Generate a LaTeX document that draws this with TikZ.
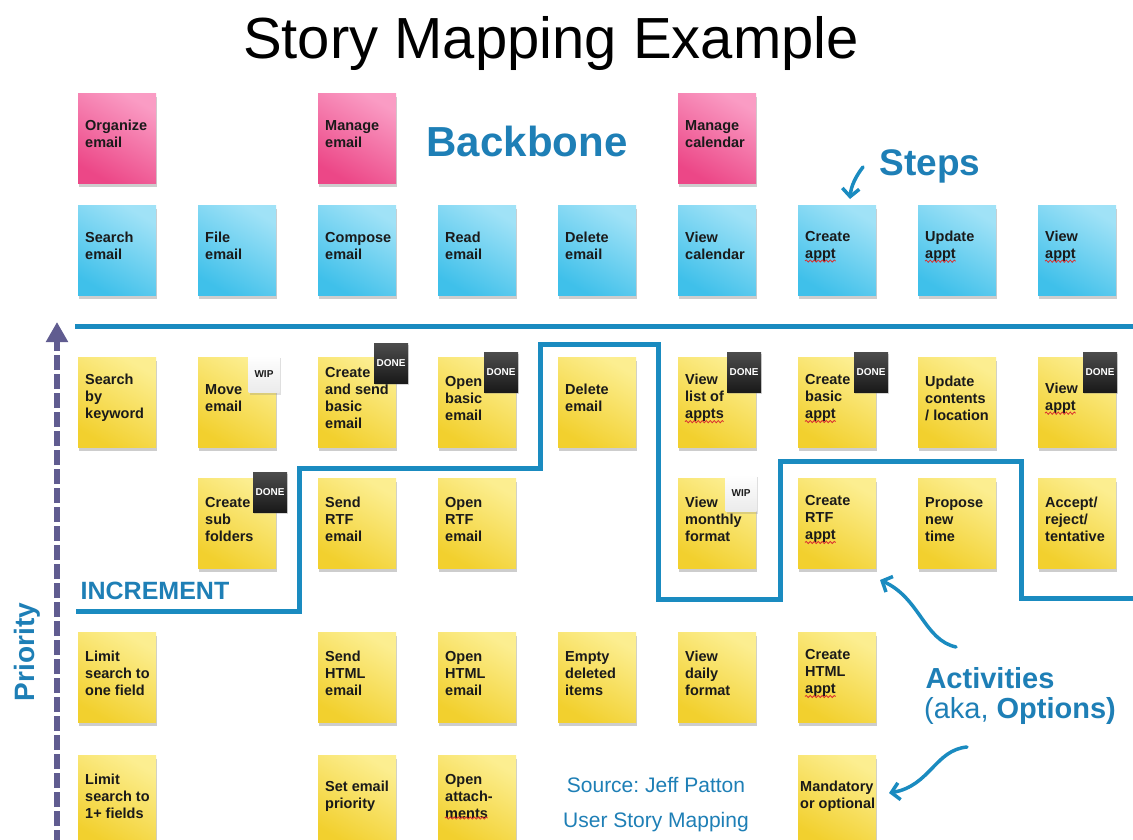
\documentclass[tikz,border=0pt]{standalone}
\usepackage{fontspec}
\setmainfont{Liberation Sans}
\usetikzlibrary{arrows.meta,shadows,decorations.pathmorphing}
\frenchspacing
\definecolor{pinkA}{HTML}{EC4787}
\definecolor{pinkB}{HTML}{FA9CC4}
\definecolor{blueA}{HTML}{3FC0EA}
\definecolor{blueB}{HTML}{A0E2F7}
\definecolor{yelA}{HTML}{F2D02E}
\definecolor{yelB}{HTML}{FCEE90}
\definecolor{tblue}{HTML}{1E7FB6}
\definecolor{lblue}{HTML}{1A8BC0}
\definecolor{prio}{HTML}{605C90}
\definecolor{wavered}{HTML}{D93030}
\definecolor{ink}{HTML}{1A1A1A}
\tikzset{
  note/.style={minimum width=78pt,minimum height=90pt,inner sep=0pt,anchor=north west,draw=none,
    drop shadow={shadow xshift=1pt,shadow yshift=-4pt,opacity=0.28,fill=black!70}},
  pinknote/.style={note,bottom color=pinkA,top color=pinkB,shading angle=-30},
  bluenote/.style={note,bottom color=blueA,top color=blueB,shading angle=-30},
  yelnote/.style={note,bottom color=yelA,top color=yelB,shading angle=-30},
  ntext/.style={anchor=west,align=left,inner sep=0pt,text=ink,font=\fontsize{14.5}{17}\selectfont\bfseries},
  donetag/.style={minimum width=34pt,minimum height=40pt,inner sep=0pt,top color=black!70,bottom color=black!90,
    text=white,font=\fontsize{10}{12}\selectfont\bfseries,drop shadow={shadow xshift=1pt,shadow yshift=-2pt,opacity=0.3}},
  wiptag/.style={minimum width=31pt,minimum height=37pt,inner sep=0pt,top color=white,bottom color=black!8,
    text=ink,font=\fontsize{10}{12}\selectfont\bfseries,drop shadow={shadow xshift=1pt,shadow yshift=-2pt,opacity=0.25}},
  bline/.style={draw=lblue,line width=5pt},
  barrow/.style={draw=lblue,line width=3.5pt,line cap=round,-{Straight Barb[length=8pt,width=17pt]}},
  prioarrow/.style={draw=prio,line width=6pt,dash pattern=on 15pt off 4pt,-{Triangle[length=20pt,width=21pt]}},
  btxt/.style={text=tblue,inner sep=0pt},
  squig/.style={draw=wavered,line width=0.8pt,decorate,decoration={snake,amplitude=1.1pt,segment length=4pt}},
}
\newcommand\stick[6][7pt]{%
  \node[#3] (#2) at ({78+120*#4},#5) {};
  \node[ntext] (#2t) at ([xshift=#1,yshift=4pt]#2.west) {#6};
}
\newcommand\sqline[2]{%
  \draw[squig] ([yshift=0.5pt]#1t.south west) -- ++(#2,0);
}
\begin{document}
\begin{tikzpicture}[x=1pt,y=-1pt]
\fill[white] (0,0) rectangle (1133,840);
\useasboundingbox (0,0) rectangle (1133,840);

% title and labels
\node[inner sep=0pt,font=\fontsize{58}{60}\selectfont] (title) at (551,44) {Story Mapping Example};
\node[btxt,font=\fontsize{42}{44}\selectfont\bfseries] (backbone) at (527,141) {Backbone};
\node[btxt,font=\fontsize{37}{40}\selectfont\bfseries] (steps) at (930,166) {Steps};
\node[btxt,font=\fontsize{25}{27}\selectfont\bfseries] (incr) at (155,591) {INCREMENT};
\node[btxt,rotate=90,font=\fontsize{28}{30}\selectfont\bfseries] (prio) at (27,652) {Priority};
\node[btxt,font=\fontsize{29}{31}\selectfont\bfseries] (act) at (990,678) {Activities};
\node[btxt,font=\fontsize{29}{31}\selectfont] (aka) at (1020,711) {(aka, \textbf{Options)}};
\node[btxt,font=\fontsize{21}{23}\selectfont] (src) at (656,785) {Source: Jeff Patton};
\node[btxt,font=\fontsize{21}{23}\selectfont] (usm) at (656,822) {User Story Mapping};

% activities (pink)
\stick{p0}{pinknote}{0}{93}{Organize\\email}
\stick{p2}{pinknote}{2}{93}{Manage\\email}
\stick{p5}{pinknote}{5}{93}{Manage\\calendar}

% steps (blue)
\stick{b0}{bluenote}{0}{205}{Search\\email}
\stick{b1}{bluenote}{1}{205}{File\\email}
\stick{b2}{bluenote}{2}{205}{Compose\\email}
\stick{b3}{bluenote}{3}{205}{Read\\email}
\stick{b4}{bluenote}{4}{205}{Delete\\email}
\stick{b5}{bluenote}{5}{205}{View\\calendar}
\stick{b6}{bluenote}{6}{205}{Create\\appt}
\stick{b7}{bluenote}{7}{205}{Update\\appt}
\stick{b8}{bluenote}{8}{205}{View\\appt}

% row 1
\stick{a0}{yelnote}{0}{357}{Search\\by\\keyword}
\stick{a1}{yelnote}{1}{357}{Move\\email}
\stick{a2}{yelnote}{2}{357}{Create\\and send\\basic\\email}
\stick{a3}{yelnote}{3}{357}{Open\\basic\\email}
\stick{a4}{yelnote}{4}{357}{Delete\\email}
\stick{a5}{yelnote}{5}{357}{View\\list of\\appts}
\stick{a6}{yelnote}{6}{357}{Create\\basic\\appt}
\stick{a7}{yelnote}{7}{357}{Update\\contents\\/ location}
\stick{a8}{yelnote}{8}{357}{View\\appt}

% row 2
\stick{c1}{yelnote}{1}{478}{Create\\sub\\folders}
\stick{c2}{yelnote}{2}{478}{Send\\RTF\\email}
\stick{c3}{yelnote}{3}{478}{Open\\RTF\\email}
\stick{c5}{yelnote}{5}{478}{View\\monthly\\format}
\stick{c6}{yelnote}{6}{478}{Create\\RTF\\appt}
\stick{c7}{yelnote}{7}{478}{Propose\\new\\time}
\stick{c8}{yelnote}{8}{478}{Accept/\\reject/\\tentative}

% row 3
\stick{d0}{yelnote}{0}{632}{Limit\\search to\\one field}
\stick{d2}{yelnote}{2}{632}{Send\\HTML\\email}
\stick{d3}{yelnote}{3}{632}{Open\\HTML\\email}
\stick{d4}{yelnote}{4}{632}{Empty\\deleted\\items}
\stick{d5}{yelnote}{5}{632}{View\\daily\\format}
\stick{d6}{yelnote}{6}{632}{Create\\HTML\\appt}

% row 4
\stick{e0}{yelnote}{0}{755}{Limit\\search to\\1+ fields}
\stick{e2}{yelnote}{2}{755}{Set email\\priority}
\stick{e3}{yelnote}{3}{755}{Open\\attach-\\ments}
\stick[2pt]{e6}{yelnote}{6}{755}{Mandatory\\or optional}

% spell-check squiggles
\sqline{b6}{30.6}
\sqline{b7}{30.6}
\sqline{b8}{30.6}
\sqline{a5}{38.7}
\sqline{a6}{30.6}
\sqline{a8}{30.6}
\sqline{c6}{30.6}
\sqline{d6}{30.6}
\sqline{e3}{42.7}

% tags
\node[wiptag]  (t1) at (264,374) {WIP};
\node[donetag] (t2) at (391,363) {DONE};
\node[donetag] (t3) at (501,372) {DONE};
\node[donetag] (t4) at (270,492) {DONE};
\node[donetag] (t5) at (744,372) {DONE};
\node[donetag] (t6) at (871,372) {DONE};
\node[donetag] (t7) at (1100,372) {DONE};
\node[wiptag]  (t8) at (741,493) {WIP};

% backbone line
\coordinate (bbL) at (75,326);
\coordinate (bbR) at (1133,326);
\draw[bline] (bbL) -- (bbR);

% increment (release) line
\coordinate (i0) at (76,611);
\coordinate (i1) at (299,468);
\coordinate (i2) at (540,344);
\coordinate (i3) at (658,599);
\coordinate (i4) at (780,461);
\coordinate (i5) at (1021,598);
\coordinate (i6) at (1133,598);
\draw[bline] (i0) -| (i1) -| (i2) -| (i3) -| (i4) -| (i5) -- (i6);

% priority arrow
\coordinate (pb) at (57,845);
\coordinate (pt) at (57,322);
\draw[prioarrow] (pb) -- (pt);

% steps arrow
\coordinate (sTail) at (863,167);
\coordinate (sTip) at (850,199);
\draw[barrow] (sTail) .. controls (856,176) and (851,186) .. (sTip);

% activities arrows
\coordinate (aTail1) at (956,647);
\coordinate (aTip1) at (880,580);
\draw[barrow] (aTail1) .. controls (924,640) and (920,598) .. (aTip1);
\coordinate (aTail2) at (967,747);
\coordinate (aTip2) at (889,793);
\draw[barrow] (aTail2) .. controls (935,750) and (930,786) .. (aTip2);
\end{tikzpicture}
\end{document}
